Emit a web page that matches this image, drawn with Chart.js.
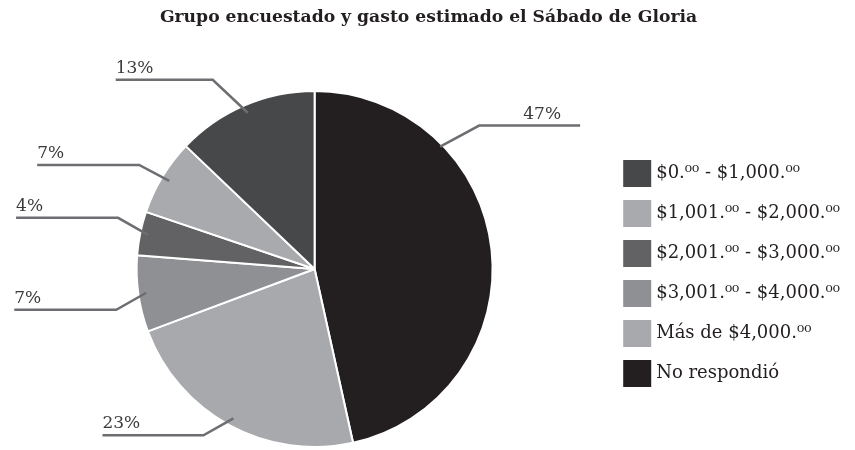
<!DOCTYPE html>
<html>
<head>
<meta charset="utf-8">
<script src="https://cdn.jsdelivr.net/npm/chart.js@4/dist/chart.umd.min.js"></script>
<style>
  html, body { margin: 0; padding: 0; background: #ffffff; }
  #wrap { width: 855px; height: 450px; position: relative; }
</style>
</head>
<body>
<div id="wrap"><canvas id="c" width="855" height="450"></canvas></div>
<script>
// ---- Data (legend order) ----
const categories = [
  '$0.\u2070\u2070 - $1,000.\u2070\u2070',
  '$1,001.\u2070\u2070 - $2,000.\u2070\u2070',
  '$2,001.\u2070\u2070 - $3,000.\u2070\u2070',
  '$3,001.\u2070\u2070 - $4,000.\u2070\u2070',
  'M\u00e1s de $4,000.\u2070\u2070',
  'No respondi\u00f3'
];
const values = [13, 7, 4, 7, 23, 47];
const sliceColors = ['#47484a', '#a9aaad', '#626265', '#8f9093', '#a8a9ac', '#231f20'];
const titleText = 'Grupo encuestado y gasto estimado el S\u00e1bado de Gloria';

// Leader-line layout per slice (legend order): fraction along arc, radius factor, elbow offset, line length, direction
const leaderLayout = [
  { f: 0.5,   rf: 0.955, dx: -35, dy: -33, len: 97,  dir: -1 },
  { f: 0.5,   rf: 0.955, dx: -30, dy: -16, len: 102, dir: -1 },
  { f: 0.5,   rf: 0.955, dx: -30, dy: -17, len: 102, dir: -1 },
  { f: 0.5,   rf: 0.955, dx: -30, dy: 17,  len: 102, dir: -1 },
  { f: 0.5,   rf: 0.955, dx: -30, dy: 17,  len: 101, dir: -1 },
  { f: 0.273, rf: 0.985, dx: 39,  dy: -21, len: 101, dir: 1, textOffset: 63 }
];

// Pie is drawn counter-clockwise in the reference: feed reversed order, reverse legend
const chartLabels = categories.slice().reverse();
const chartValues = values.slice().reverse();
const chartColors = sliceColors.slice().reverse();
const chartLayout = leaderLayout.slice().reverse();

const FONT = "'DejaVu Serif', serif";

const leaderPlugin = {
  id: 'leaders',
  afterDatasetsDraw(chart) {
    const ctx = chart.ctx;
    const meta = chart.getDatasetMeta(0);
    ctx.save();
    meta.data.forEach((arc, i) => {
      const p = arc.getProps(['x', 'y', 'startAngle', 'endAngle', 'outerRadius'], true);
      const L = chartLayout[i];
      const a = p.startAngle + L.f * (p.endAngle - p.startAngle);
      const r = p.outerRadius * L.rf;
      const ax = p.x + Math.cos(a) * r;
      const ay = p.y + Math.sin(a) * r;
      const ex = ax + L.dx, ey = ay + L.dy;
      const hx = ex + L.dir * L.len;
      ctx.strokeStyle = '#6d6e71';
      ctx.lineWidth = 2.5;
      ctx.lineJoin = 'miter';
      ctx.beginPath();
      ctx.moveTo(ax, ay);
      ctx.lineTo(ex, ey);
      ctx.lineTo(hx, ey);
      ctx.stroke();
      ctx.fillStyle = '#3a3a3c';
      ctx.font = '17px ' + FONT;
      ctx.textBaseline = 'alphabetic';
      const txt = chartValues[i] + '%';
      if (L.dir < 0) {
        ctx.textAlign = 'left';
        ctx.fillText(txt, hx, ey - 7);
      } else {
        ctx.textAlign = 'center';
        ctx.fillText(txt, ex + L.textOffset, ey - 7);
      }
    });
    ctx.restore();
  }
};

// Title drawn centred on the full page width (Chart.js title would follow the asymmetric padding)
const pageTitlePlugin = {
  id: 'pageTitle',
  afterDraw(chart) {
    const ctx = chart.ctx;
    ctx.save();
    ctx.fillStyle = '#231f20';
    ctx.font = 'bold 17.2px ' + FONT;
    ctx.textAlign = 'center';
    ctx.textBaseline = 'alphabetic';
    ctx.fillText(titleText, 428.5, 22);
    ctx.restore();
  }
};

const baseGenerate = Chart.overrides.pie.plugins.legend.labels.generateLabels;

new Chart(document.getElementById('c'), {
  type: 'pie',
  data: {
    labels: chartLabels,
    datasets: [{
      data: chartValues,
      backgroundColor: chartColors,
      borderColor: '#ffffff',
      borderWidth: 2
    }]
  },
  options: {
    responsive: false,
    animation: false,
    layout: { padding: { left: 23, right: 5, top: 90, bottom: 2 } },
    plugins: {
      title: { display: false },
      legend: {
        position: 'right',
        reverse: true,
        title: {
          display: true,
          text: '',
          font: { size: 1, lineHeight: 1 },
          padding: { top: 4, bottom: 4 }
        },
        labels: {
          boxWidth: 20,
          boxHeight: 19,
          padding: 21,
          color: '#231f20',
          font: { family: FONT, size: 18 },
          generateLabels(chart) {
            return baseGenerate(chart).map(item => Object.assign(item, {
              strokeStyle: item.fillStyle,
              lineWidth: 8
            }));
          }
        }
      },
      tooltip: { enabled: false }
    }
  },
  plugins: [leaderPlugin, pageTitlePlugin]
});
</script>
</body>
</html>
